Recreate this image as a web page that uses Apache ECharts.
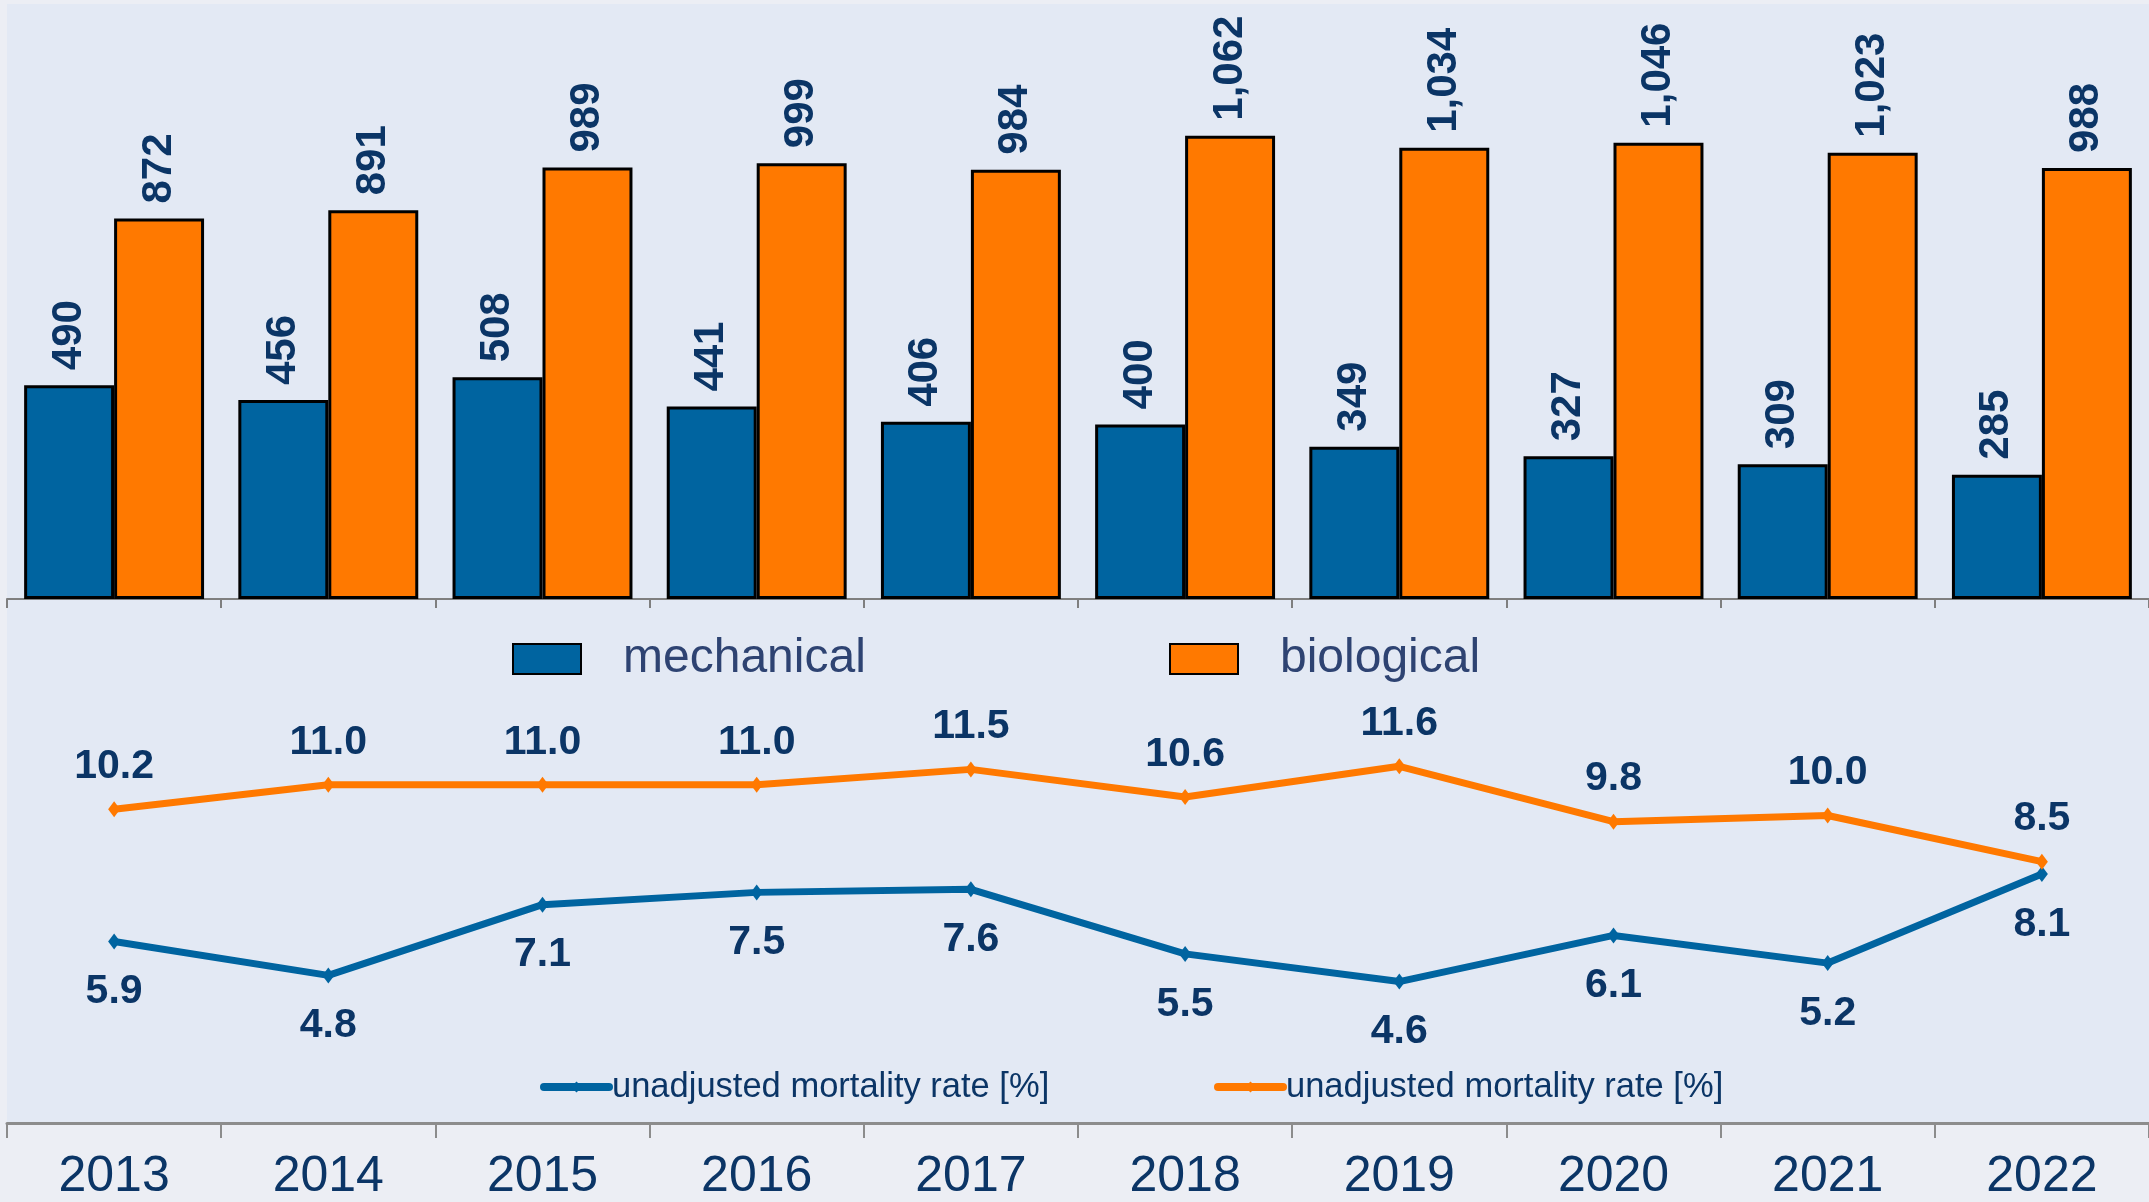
<!DOCTYPE html>
<html>
<head>
<meta charset="utf-8">
<script src="https://cdn.jsdelivr.net/npm/echarts@6/dist/echarts.min.js"></script>
<style>
  html, body { margin: 0; padding: 0; background: #ECEEF4; }
  #chart { width: 2149px; height: 1202px; }
</style>
</head>
<body>
<div id="chart"></div>
<script>
// years on the x axis
const years = ['2013', '2014', '2015', '2016', '2017', '2018', '2019', '2020', '2021', '2022'];
// number of procedures
const mechanical = [490, 456, 508, 441, 406, 400, 349, 327, 309, 285];
const biological = [872, 891, 989, 999, 984, 1062, 1034, 1046, 1023, 988];
// unadjusted mortality rate [%]
const mortMechanical = [5.9, 4.8, 7.1, 7.5, 7.6, 5.5, 4.6, 6.1, 5.2, 8.1];
const mortBiological = [10.2, 11.0, 11.0, 11.0, 11.5, 10.6, 11.6, 9.8, 10.0, 8.5];

const BLUE = '#0064A0';
const ORANGE = '#FF7900';
const NAVY = '#0B3566';
const LEGEND_TEXT = '#2E4372';
const FONT = '"Liberation Sans", Arial, sans-serif';

const chart = echarts.init(document.getElementById('chart'));

const barLabel = {
    show: true,
    position: 'top',
    rotate: 90,
    align: 'left',
    verticalAlign: 'middle',
    distance: 15,
    color: NAVY,
    fontFamily: FONT,
    fontWeight: 'bold',
    fontSize: 42,
    formatter: (p) => p.value.toLocaleString('en-US')
};

const lineLabel = {
    show: true,
    color: NAVY,
    fontFamily: FONT,
    fontWeight: 'bold',
    fontSize: 41,
    formatter: (p) => p.value.toFixed(1)
};

// legend for the line series
const lineLegend = (left, name) => ({
    left: left, top: 1062,
    itemWidth: 65, itemHeight: 14,
    data: [name],
    lineStyle: { width: 8, cap: 'round' },
    formatter: () => 'unadjusted mortality rate [%]',
    textStyle: { color: NAVY, fontFamily: FONT, fontSize: 34.5, lineHeight: 40, padding: [0, 0, 0, -2] }
});

const option = {
    animation: false,
    backgroundColor: '#ECEEF4',
    // plot area background
    graphic: [{
        type: 'rect',
        z: -10,
        shape: { x: 7, y: 4, width: 2142, height: 1119 },
        style: { fill: '#E3E9F4' }
    }],
    grid: [
        { left: 7, right: 0, top: 10, height: 589 },
        { left: 7, right: 0, top: 631, height: 492 }
    ],
    legend: [
        {
            left: 507, top: 626,
            icon: 'rect',
            itemWidth: 68, itemHeight: 30,
            data: ['mechanical'],
            textStyle: { color: LEGEND_TEXT, fontFamily: FONT, fontSize: 48, lineHeight: 56, padding: [0, 0, 0, 37] }
        },
        {
            left: 1164, top: 626,
            icon: 'rect',
            itemWidth: 68, itemHeight: 30,
            data: ['biological'],
            textStyle: { color: LEGEND_TEXT, fontFamily: FONT, fontSize: 48, lineHeight: 56, padding: [0, 0, 0, 37] }
        },
        lineLegend(535, 'mortality mechanical'),
        lineLegend(1209, 'mortality biological')
    ],
    xAxis: [
        {
            type: 'category', gridIndex: 0, data: years,
            axisLine: { lineStyle: { color: '#7F7F7F', width: 2 } },
            axisTick: { show: true, length: 9, lineStyle: { color: '#7F7F7F', width: 2 } },
            axisLabel: { show: false }
        },
        {
            type: 'category', gridIndex: 1, data: years,
            axisLine: { lineStyle: { color: '#8C8C8C', width: 3 } },
            axisTick: { show: true, length: 15, lineStyle: { color: '#8C8C8C', width: 2 } },
            axisLabel: { color: NAVY, fontFamily: FONT, fontSize: 50, margin: 29 }
        }
    ],
    yAxis: [
        { type: 'value', gridIndex: 0, min: 0, max: 1350, show: false, splitLine: { show: false } },
        { type: 'value', gridIndex: 1, min: 0, max: 16, show: false, splitLine: { show: false } }
    ],
    series: [
        {
            name: 'mechanical', type: 'bar', xAxisIndex: 0, yAxisIndex: 0,
            data: mechanical,
            barGap: '0%', barCategoryGap: '16%',
            itemStyle: { color: BLUE, borderColor: '#000', borderWidth: 3 },
            label: barLabel
        },
        {
            name: 'biological', type: 'bar', xAxisIndex: 0, yAxisIndex: 0,
            data: biological,
            barGap: '0%', barCategoryGap: '16%',
            itemStyle: { color: ORANGE, borderColor: '#000', borderWidth: 3 },
            label: barLabel
        },
        {
            name: 'mortality mechanical', type: 'line', xAxisIndex: 1, yAxisIndex: 1,
            data: mortMechanical,
            symbol: 'diamond', symbolSize: [12, 16],
            lineStyle: { color: BLUE, width: 7 },
            itemStyle: { color: BLUE },
            label: Object.assign({}, lineLabel, { position: 'bottom', distance: 22 })
        },
        {
            name: 'mortality biological', type: 'line', xAxisIndex: 1, yAxisIndex: 1,
            data: mortBiological,
            symbol: 'diamond', symbolSize: [12, 16],
            lineStyle: { color: ORANGE, width: 7 },
            itemStyle: { color: ORANGE },
            label: Object.assign({}, lineLabel, { position: 'top', distance: 14 })
        }
    ]
};

chart.setOption(option);
</script>
</body>
</html>
